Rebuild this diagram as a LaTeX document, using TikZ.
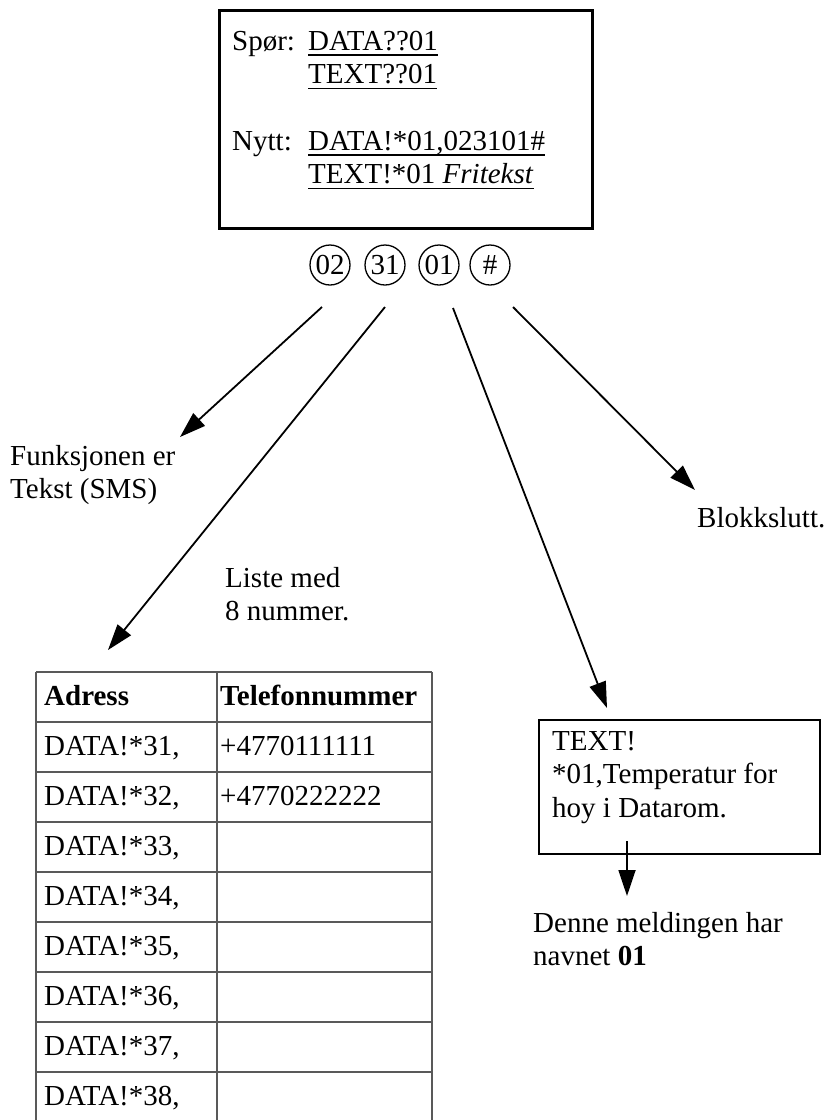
\documentclass[tikz,border=0pt]{standalone}
\usepackage{fontspec}
\setmainfont{Liberation Serif}
\usetikzlibrary{arrows.meta}
\newcommand\bigtxt{\fontsize{29}{33.5}\selectfont}
\begin{document}
\begin{tikzpicture}[x=1pt,y=-1pt,
  txt/.style={anchor=base west, inner sep=0pt, font=\bigtxt},
  circ/.style={circle, draw, line width=1.3pt, minimum size=40pt, inner sep=0pt, font=\bigtxt},
  arr/.style={line width=1.8pt, -{Triangle[length=26pt,width=17pt]}},
  grid/.style={draw=black!65, line width=1.1pt},
  uline/.style={line width=1.4pt}]
\useasboundingbox (0,0) rectangle (827,1120);

% top box
\node (box1) [draw, line width=2.6pt, minimum width=373pt, minimum height=218pt, anchor=north west, inner sep=0pt] at (218,9) {};
\node (spor) [txt] at (232,50) {Spør:};
\node (q1) [txt] at (308,50) {DATA??01};
\node (q2) [txt] at (308,83.5) {TEXT??01};
\node (nytt) [txt] at (232,150) {Nytt:};
\node (n1) [txt] at (308,150) {DATA!*01,023101\#};
\node (n2) [txt] at (308,183.5) {TEXT!*01 \textit{Fritekst}};
\foreach \n in {q1,q2,n1,n2}{
  \draw[uline] ([yshift=-5pt]\n.base west) -- ([yshift=-5pt]\n.base east);
}

% circled code
\node (c02) [circ] at (330,265) {02};
\node (c31) [circ] at (385,265) {31};
\node (c01) [circ] at (439,265) {01};
\node (chash) [circ] at (490,265) {\#};

% labels
\node (funk1) [txt] at (10,465) {Funksjonen er};
\node (funk2) [txt] at (10,498.5) {Tekst (SMS)};
\node (liste1) [txt] at (225,587) {Liste med};
\node (liste2) [txt] at (225,620) {8 nummer.};
\node (blokk) [txt] at (697,527) {Blokkslutt.};

% arrows
\coordinate (aAs) at (322,307);
\coordinate (aAe) at (180,437);
\coordinate (aBs) at (385,307);
\coordinate (aBe) at (108,650);
\coordinate (aCs) at (453,308);
\coordinate (aCe) at (607,708);
\coordinate (aDs) at (513,307);
\coordinate (aDe) at (695,490);
\draw[arr] (aAs) -- (aAe);
\draw[arr] (aBs) -- (aBe);
\draw[arr] (aCs) -- (aCe);
\draw[arr] (aDs) -- (aDe);

% message box
\node (box2) [draw, line width=2.2pt, minimum width=281pt, minimum height=134pt, anchor=north west, inner sep=0pt] at (538,719) {};
\node (m1) [txt] at (552,750) {TEXT!};
\node (m2) [txt] at (552,783.5) {*01,Temperatur for};
\node (m3) [txt] at (552,817) {hoy i Datarom.};
\coordinate (mEs) at (627,841);
\coordinate (mEe) at (627,896);
\draw[arr] (mEs) -- (mEe);
\node (d1) [txt] at (533,932) {Denne meldingen har};
\node (d2) [txt] at (533,965) {navnet \textbf{01}};

% table
\foreach \k in {0,...,9}{
  \draw[grid] (36,672+50*\k) -- (432,672+50*\k);
}
\draw[grid] (36,672) -- (36,1130);
\draw[grid] (217,672) -- (217,1130);
\draw[grid] (432,672) -- (432,1130);
\node (h1) [txt] at (44,705) {\textbf{Adress}};
\node (h2) [txt] at (220,705) {\textbf{Telefonnummer}};
\foreach \k/\v in {1/31,2/32,3/33,4/34,5/35,6/36,7/37,8/38}{
  \node (r\k) [txt] at (44,705+50*\k) {DATA!*\v,};
}
\node (p1) [txt] at (220,755) {+4770111111};
\node (p2) [txt] at (220,805) {+4770222222};
\end{tikzpicture}
\end{document}
